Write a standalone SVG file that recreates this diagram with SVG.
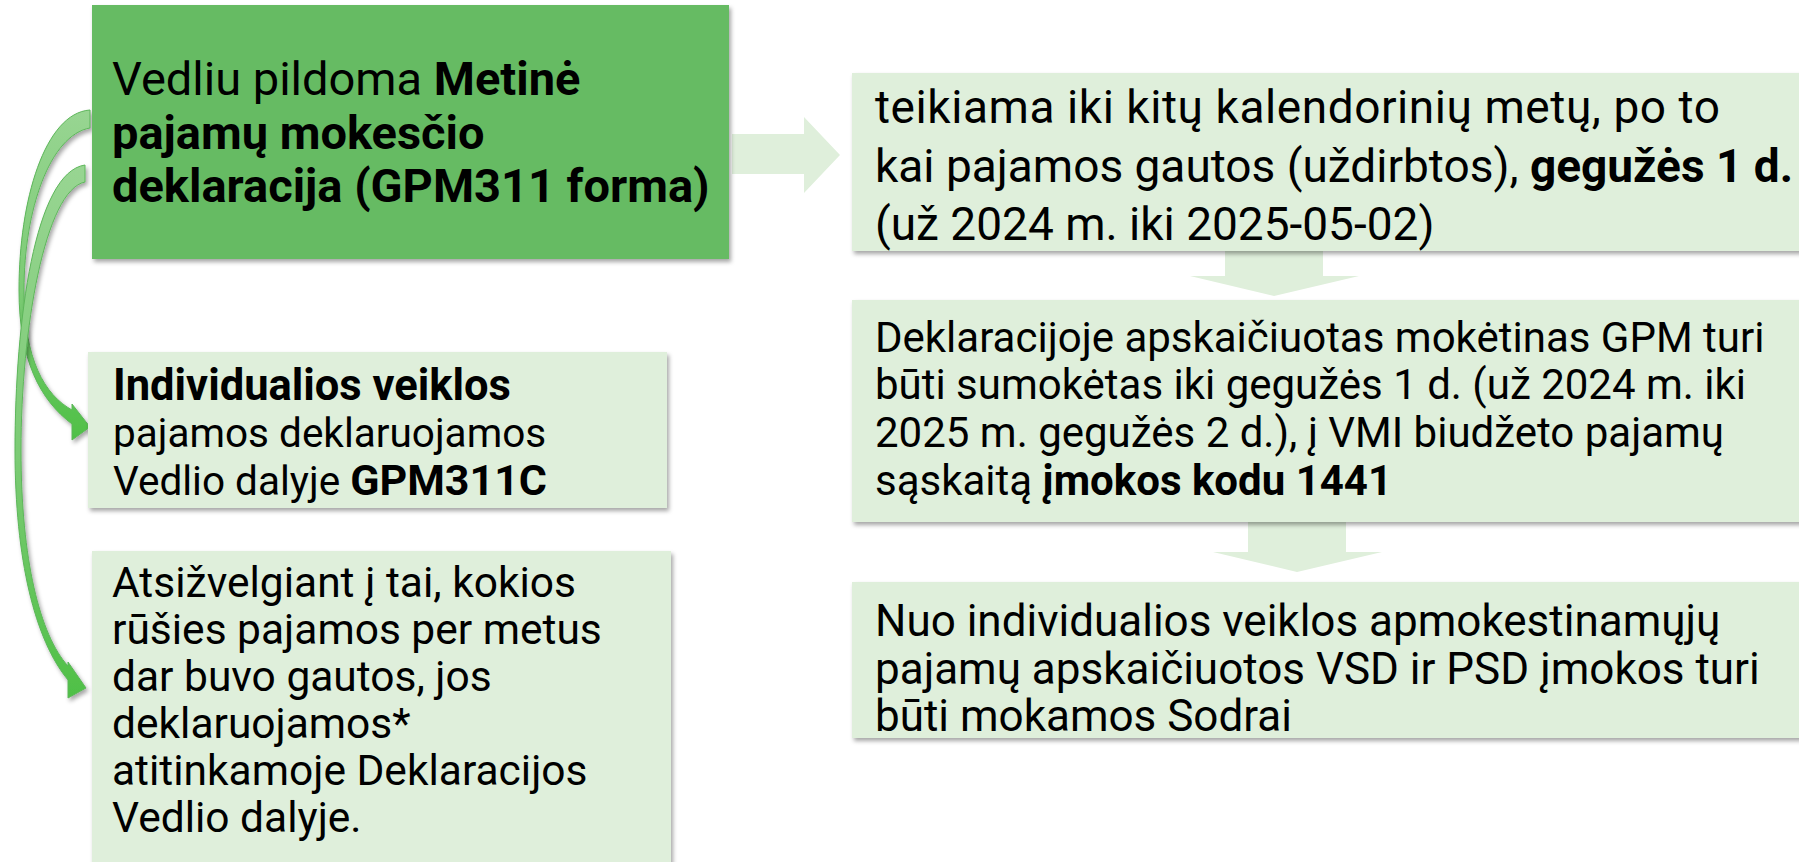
<svg xmlns="http://www.w3.org/2000/svg" width="1799" height="862" viewBox="0 0 1799 862">
<style>
  .t { font-family: Roboto, "Open Sans", "DejaVu Sans", sans-serif; fill: #000; }
  .b { font-weight: bold; }
  .light { fill: #dfefdb; }
  .dark { fill: #66bb63; }
  .blk { fill: #dfefdb; }
  .curve { stroke: #5db65a; stroke-width: 1; }
</style>
<defs>
  <filter id="sh" x="-5%" y="-5%" width="115%" height="125%">
    <feDropShadow dx="2" dy="3" stdDeviation="2" flood-color="#000" flood-opacity="0.35"/>
  </filter>
  <linearGradient id="cg" x1="0" y1="0" x2="0" y2="1">
    <stop offset="0" stop-color="#98d592"/>
    <stop offset="0.55" stop-color="#7bcb74"/>
    <stop offset="1" stop-color="#4fc046"/>
  </linearGradient>
</defs>

<g id="connectors">
  <path class="blk" d="M732,134 L804,134 L804,117 L840,155 L804,193 L804,174 L732,174 Z"/>
  <path class="blk" d="M1225,245 L1323,245 L1323,276 L1359,276 L1274,296 L1190,276 L1225,276 Z"/>
  <path class="blk" d="M1248,515 L1346,515 L1346,552 L1382,552 L1297,572 L1213,552 L1248,552 Z"/>
  <path class="curve" fill="url(#cg)" filter="url(#sh)" d="M90,110 C45,113 19,200 19,290 C19,360 40,400 72,424 L72,440 L90,427 L72,404 L72,410 C45,395 24,360 24,290 C24,210 50,135 90,128 Z"/>
  <path class="curve" fill="url(#cg)" filter="url(#sh)" d="M85,165 C35,172 15,320 15,450 C15,560 35,640 68,680 L68,698 L86,688 L68,662 L68,666 C40,635 21,560 21,450 C21,330 45,190 85,182 Z"/>
</g>

<g id="node-main">
  <rect class="dark" x="92" y="5" width="637" height="254" filter="url(#sh)"/>
  <text class="t" font-size="47" x="112" y="95">Vedliu pildoma <tspan class="b">Metinė</tspan></text>
  <text class="t b" font-size="47" x="112" y="149">pajamų mokesčio</text>
  <text class="t b" font-size="47" x="112" y="202">deklaracija (GPM311 forma)</text>
</g>

<g id="node-deadline">
  <rect class="light" x="852" y="73" width="970" height="178" filter="url(#sh)"/>
  <text class="t" font-size="46" x="875" y="123" textLength="845" lengthAdjust="spacing">teikiama iki kitų kalendorinių metų, po to</text>
  <text class="t" font-size="46" x="875" y="182">kai pajamos gautos (uždirbtos), <tspan class="b">gegužės 1 d.</tspan></text>
  <text class="t" font-size="46" x="875" y="240">(už 2024 m. iki 2025-05-02)</text>
</g>

<g id="node-gpm">
  <rect class="light" x="852" y="300" width="970" height="222" filter="url(#sh)"/>
  <text class="t" font-size="42" x="875" y="352">Deklaracijoje apskaičiuotas mokėtinas GPM turi</text>
  <text class="t" font-size="42" x="875" y="399">būti sumokėtas iki gegužės 1 d. (už 2024 m. iki</text>
  <text class="t" font-size="42" x="875" y="447">2025 m. gegužės 2 d.), į VMI biudžeto pajamų</text>
  <text class="t" font-size="42" x="875" y="495">sąskaitą <tspan class="b">įmokos kodu 1441</tspan></text>
</g>

<g id="node-sodra">
  <rect class="light" x="852" y="582" width="970" height="156" filter="url(#sh)"/>
  <text class="t" font-size="44" x="875" y="636">Nuo individualios veiklos apmokestinamųjų</text>
  <text class="t" font-size="44" x="875" y="684">pajamų apskaičiuotos VSD ir PSD įmokos turi</text>
  <text class="t" font-size="44" x="875" y="731">būti mokamos Sodrai</text>
</g>

<g id="node-individual">
  <rect class="light" x="88" y="352" width="579" height="156" filter="url(#sh)"/>
  <text class="t b" font-size="43.5" x="113" y="400">Individualios veiklos</text>
  <text class="t" font-size="40.5" x="113" y="447">pajamos deklaruojamos</text>
  <text class="t" font-size="40.5" x="113" y="495">Vedlio dalyje <tspan class="b" font-size="43">GPM311C</tspan></text>
</g>

<g id="node-other">
  <rect class="light" x="92" y="551" width="579" height="330" filter="url(#sh)"/>
  <text class="t" font-size="42.5" x="112" y="597">Atsižvelgiant į tai, kokios</text>
  <text class="t" font-size="42.5" x="112" y="644">rūšies pajamos per metus</text>
  <text class="t" font-size="42.5" x="112" y="691">dar buvo gautos, jos</text>
  <text class="t" font-size="42.5" x="112" y="738">deklaruojamos*</text>
  <text class="t" font-size="42.5" x="112" y="785">atitinkamoje Deklaracijos</text>
  <text class="t" font-size="42.5" x="112" y="832">Vedlio dalyje.</text>
</g>
</svg>
